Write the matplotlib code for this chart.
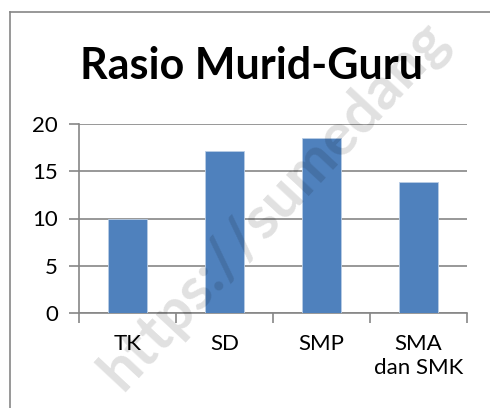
import matplotlib.pyplot as plt
from matplotlib.lines import Line2D

# data
categories = ["TK", "SD", "SMP", "SMA\ndan SMK"]
ratios = [10.0, 17.1, 18.5, 13.9]
y_ticks = [0, 5, 10, 15, 20]

plt.rcParams['font.family'] = ['Lato', 'DejaVu Sans']

W, H = 490, 408
fig = plt.figure(figsize=(W / 100, H / 100), dpi=100)
ax = fig.add_axes([79 / W, 1 - 313 / H, (467 - 79) / W, (313 - 124) / H])

grid_col = '#868686'
x = list(range(len(categories)))
ax.bar(x, ratios, width=0.4, color='#4F81BD', edgecolor='#B9CDE5',
       linewidth=0.6, zorder=3)

ax.set_xlim(-0.5, len(categories) - 0.5)
ax.set_ylim(0, 20)
ax.set_yticks(y_ticks)
ax.yaxis.grid(True, color=grid_col, linewidth=1.2, zorder=0)
ax.set_axisbelow(True)

# boundary ticks on x axis, labels centered under bars
ax.set_xticks([i - 0.5 for i in range(len(categories) + 1)])
ax.set_xticklabels([])
ax.set_xticks(x, minor=True)
ax.set_xticklabels(categories, minor=True, fontsize=16, linespacing=1.25)
ax.tick_params(axis='x', which='minor', length=0, pad=15)
ax.tick_params(axis='x', which='major', length=7, width=1.2, color=grid_col)
ax.tick_params(axis='y', length=7, width=1.2, color=grid_col, labelsize=16, pad=8)

for s in ['top', 'right']:
    ax.spines[s].set_visible(False)
for s in ['left', 'bottom']:
    ax.spines[s].set_color(grid_col)
    ax.spines[s].set_linewidth(1.2)

fig.text(252 / W, 1 - 79 / H, "Rasio Murid-Guru", fontsize=31,
         fontweight='bold', ha='center', va='baseline')

# chart frame
fig.add_artist(Line2D([10 / W, 1], [1 - 12 / H, 1 - 12 / H],
                      color=grid_col, linewidth=1.2))
fig.add_artist(Line2D([10 / W, 10 / W], [1 - 12 / H, 0],
                      color=grid_col, linewidth=1.2))

# watermark
fig.text(122 / W, 1 - 392 / H, "https://sumedang", fontsize=43,
         fontweight='bold', color='black', alpha=0.12, rotation=47,
         rotation_mode='anchor', ha='left', va='baseline', zorder=10)

fig.savefig('out.png', dpi=100)
